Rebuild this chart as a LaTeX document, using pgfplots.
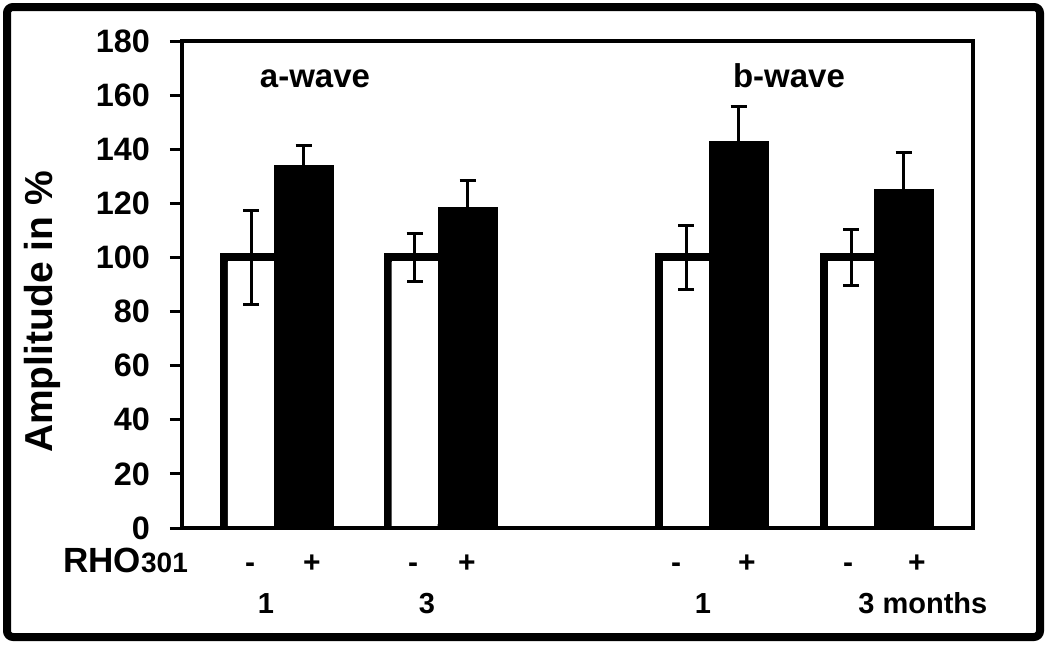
\documentclass[border=0pt]{standalone}
\usepackage{fontspec}
\setmainfont{Liberation Sans}
\usepackage{pgfplots}
\pgfplotsset{compat=1.18}
\tikzset{
 pm/.style={anchor=base, font=\bfseries\fontsize{15}{15}\selectfont},
 gl/.style={anchor=base, font=\bfseries\fontsize{14.5}{14.5}\selectfont},
}
\pgfplotstableread{
x y err inner
251 100 17.4 98.4
414.5 100 8.9 98.4
686 100 11.7 98.4
851 100 10.5 98.4
}\whitedata
\pgfplotstableread{
x y err
303.5 133.9 7.6
467.5 118.3 10.2
738.5 142.8 13.0
903.5 125.2 13.5
}\blackdata
\begin{document}
\begin{tikzpicture}
\begin{scope}[x=0.5pt,y=0.5pt]
\path (0,0) rectangle (1050,645);
\draw[line width=4pt, rounded corners=3pt] (7,8) rectangle (1040,638);
\node[rotate=90, anchor=base, font=\bfseries\fontsize{19.5}{19.5}\selectfont] at (53,333) {Amplitude in \%};
\end{scope}
\begin{axis}[
 at={(91pt,58.5pt)}, anchor=south west,
 scale only axis, width=395.5pt, height=243.5pt,
 xmin=182, xmax=973, ymin=0, ymax=180,
 ytick={0,20,...,180}, xtick=\empty,
 ytick pos=left, tick align=outside, major tick length=6pt,
 tick style={line width=1.5pt, black},
 axis line style={line width=1.75pt},
 yticklabel style={font=\bfseries\fontsize{16.2}{16.2}\selectfont, /pgf/number format/assume math mode=true, xshift=-6.5pt},
 clip mode=individual,
 axis on top,
 ybar, bar shift=0pt,
 error bars/error bar style={line width=1.5pt, black},
 error bars/error mark options={rotate=90, mark size=4pt, line width=1.5pt, black},
]
% white bars: outline, then interior fill (hides the bottom edge), then error bars
\addplot[fill=white, draw=black, line width=4pt, bar width=54] table[x=x, y=y] {\whitedata};
\addplot[fill=white, draw=none, bar width=46] table[x=x, y=inner] {\whitedata};
\addplot[draw=none, fill=none, bar width=46, error bars/y dir=both, error bars/y explicit] table[x=x, y=y, y error=err] {\whitedata};
\addplot[fill=black, draw=black, line width=0.5pt, bar width=59, error bars/y dir=plus, error bars/y explicit] table[x=x, y=y, y error=err] {\blackdata};
\node[anchor=base, font=\bfseries\fontsize{16.5}{16.5}\selectfont] at (axis cs:315,163) {a-wave};
\node[anchor=base, font=\bfseries\fontsize{16.5}{16.5}\selectfont] at (axis cs:789,163) {b-wave};
\node[anchor=base west, font=\bfseries\fontsize{17.5}{17.5}\selectfont, inner sep=0pt] at (axis cs:63,-16.3) {RHO{\fontsize{14}{14}\selectfont 301}};
\node[pm] at (axis cs:250,-16.3) {-};
\node[pm] at (axis cs:413,-16.3) {-};
\node[pm] at (axis cs:676,-16.3) {-};
\node[pm] at (axis cs:848,-16.3) {-};
\node[pm] at (axis cs:312,-16.3) {+};
\node[pm] at (axis cs:467,-16.3) {+};
\node[pm] at (axis cs:747,-16.3) {+};
\node[pm] at (axis cs:917,-16.3) {+};
\node[gl] at (axis cs:266,-31.6) {1};
\node[gl] at (axis cs:427,-31.6) {3};
\node[gl] at (axis cs:703,-31.6) {1};
\node[gl, anchor=base west, inner sep=0pt] at (axis cs:858,-31.6) {3 months};
\end{axis}
\end{tikzpicture}
\end{document}
